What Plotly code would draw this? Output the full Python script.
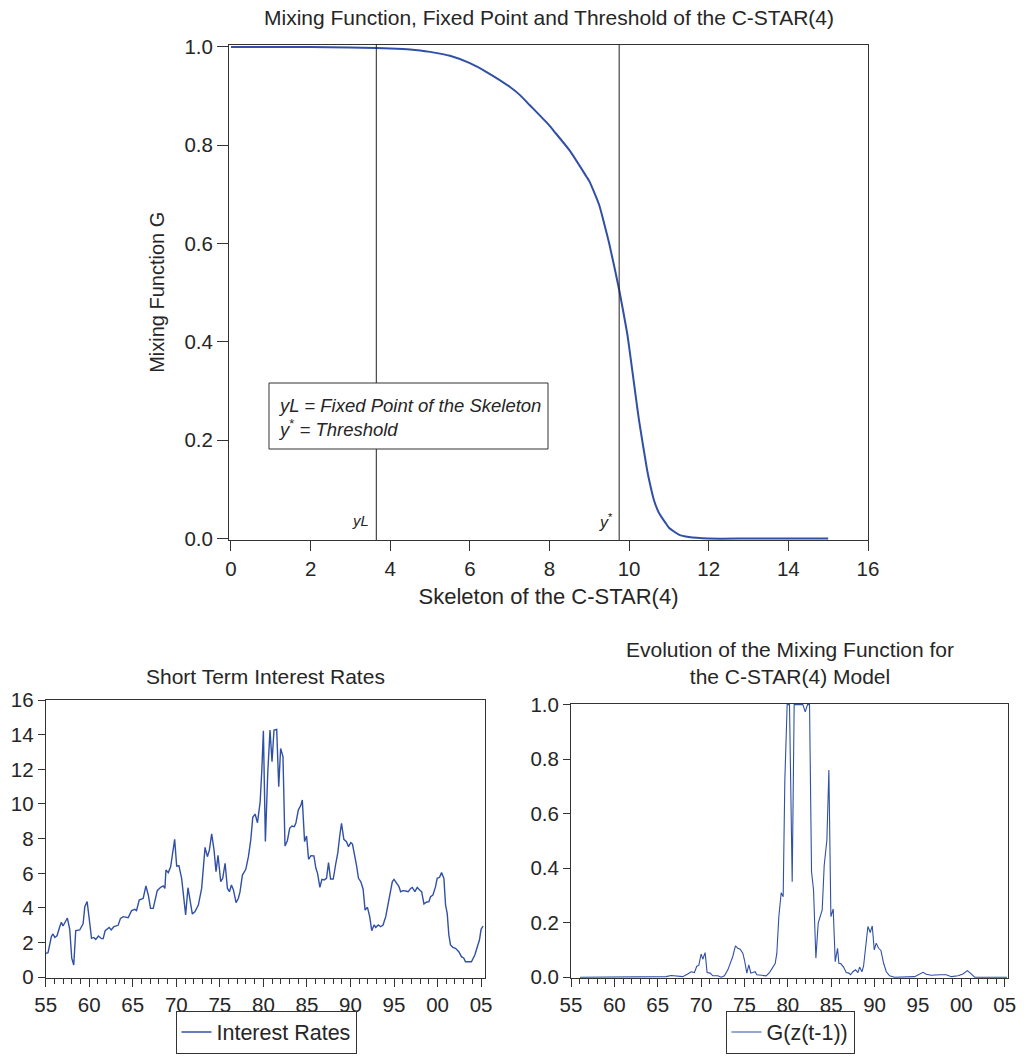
import plotly.graph_objects as go

# ---------------- data ----------------
# Top panel: mixing function G against the skeleton of the C-STAR(4)
skel_x = [0, 1, 2, 3, 3.65, 4, 4.5, 4.75, 5.0, 5.5, 6.0, 6.42, 7.0, 7.26, 7.5, 8.0, 8.1, 8.5,
          8.93, 9.0, 9.25, 9.35, 9.5, 9.75, 9.95, 10.0, 10.2, 10.25, 10.45, 10.5, 10.62, 10.75,
          10.93, 11.0, 11.25, 11.5, 12.0, 13.0, 14.0, 15.0]
mix_g = [1.0, 1.0, 1.0, 0.999, 0.998, 0.997, 0.995, 0.993, 0.990, 0.982, 0.967, 0.949, 0.919,
         0.902, 0.882, 0.840, 0.830, 0.790, 0.736, 0.727, 0.678, 0.648, 0.600, 0.506, 0.418,
         0.390, 0.269, 0.240, 0.140, 0.120, 0.079, 0.052, 0.030, 0.022, 0.008, 0.003, 0.0,
         0.0, 0.0, 0.0]
fixed_point = 3.65   # yL
threshold = 9.75     # y*

# Bottom left: short term interest rates
ir_year = [1955.00, 1955.27, 1955.65, 1955.84, 1956.04, 1956.30, 1956.61, 1956.80, 1956.99,
           1957.49, 1957.76, 1957.99, 1958.22, 1958.45, 1958.91, 1959.30, 1959.49, 1959.76,
           1960.06, 1960.26, 1960.52, 1960.75, 1961.06, 1961.41, 1961.60, 1961.83, 1962.29,
           1962.52, 1962.83, 1963.32, 1963.59, 1963.90, 1964.47, 1964.86, 1965.24, 1965.43,
           1965.74, 1966.20, 1966.51, 1966.78, 1967.04, 1967.35, 1967.81, 1968.20, 1968.50,
           1968.69, 1968.81, 1969.08, 1969.35, 1969.81, 1970.04, 1970.30, 1970.61, 1971.07,
           1971.34, 1971.57, 1971.84, 1972.15, 1972.53, 1972.91, 1973.30, 1973.57, 1973.80,
           1974.06, 1974.33, 1974.56, 1974.79, 1975.10, 1975.33, 1975.60, 1975.87, 1976.10,
           1976.33, 1976.56, 1976.86, 1977.13, 1977.32, 1977.59, 1977.98, 1978.28, 1978.55,
           1978.78, 1979.05, 1979.32, 1979.63, 1979.82, 1980.00,
           1980.23, 1980.50, 1980.76, 1980.99, 1981.22, 1981.53, 1981.76, 1981.98, 1982.25,
           1982.48, 1982.75, 1983.02, 1983.28, 1983.55, 1983.74, 1984.01, 1984.31, 1984.47,
           1984.73, 1984.96, 1985.19, 1985.46, 1985.80, 1986.03, 1986.22, 1986.49, 1986.72,
           1986.98, 1987.25, 1987.48, 1987.71, 1988.02, 1988.32, 1988.55, 1988.78, 1988.97,
           1989.24, 1989.54, 1989.77, 1990.04, 1990.23, 1990.50, 1990.69, 1990.92, 1991.18,
           1991.45, 1991.68, 1991.95, 1992.21, 1992.44, 1992.71, 1992.90, 1993.21, 1993.47,
           1993.74, 1994.05, 1994.35, 1994.62, 1994.81, 1995.00, 1995.27, 1995.57, 1995.76,
           1996.03, 1996.34, 1996.64, 1996.91, 1997.10, 1997.40, 1997.67, 1997.94, 1998.17,
           1998.44, 1998.70, 1999.01, 1999.20, 1999.47, 1999.77, 1999.96, 2000.23, 2000.46,
           2000.73, 2000.92, 2001.11, 2001.30, 2001.49, 2001.76, 2002.06, 2002.44, 2002.75,
           2003.02, 2003.21, 2003.59, 2003.89, 2004.28, 2004.54, 2004.81, 2005.00, 2005.23]
ir_value = [1.38, 1.42, 2.35, 2.50, 2.30, 2.40, 2.92, 3.17, 2.96,
            3.42, 2.77, 1.10, 0.71, 2.69, 2.73, 3.10, 4.08, 4.37,
            3.12, 2.25, 2.30, 2.19, 2.38, 2.23, 2.23, 2.69, 2.88,
            2.73, 2.92, 3.00, 3.40, 3.50, 3.44, 3.85, 3.92, 3.85,
            4.46, 4.56, 5.27, 4.75, 3.98, 3.98, 5.00, 5.19, 5.27,
            5.13, 6.19, 6.04, 6.38, 7.96, 6.42, 6.44, 5.71, 3.60,
            5.17, 4.56, 3.65, 3.79, 4.17, 5.13, 7.50, 6.96, 7.35,
            8.27, 7.35, 6.10, 7.04, 5.52, 5.71, 6.58, 5.13, 4.94,
            5.33, 5.04, 4.31, 4.56, 4.94, 5.90, 6.23, 6.96, 7.92,
            9.23, 9.42, 8.92, 10.13, 11.96, 14.23,
            7.83, 11.77, 14.27, 12.44, 14.27, 14.30, 11.00, 13.20, 12.73,
            7.58, 7.88, 8.60, 8.73, 8.69, 8.92, 9.65, 9.94, 10.23,
            7.83, 8.15, 6.81, 7.02, 7.00, 6.29, 6.00, 5.19, 5.65,
            5.62, 5.71, 6.62, 5.67, 5.67, 6.58, 7.19, 8.21, 8.88,
            7.96, 7.83, 7.54, 7.77, 7.69, 7.06, 6.48, 5.71, 5.52,
            5.10, 3.88, 4.04, 3.50, 2.69, 3.02, 2.88, 3.02, 2.92,
            3.02, 3.50, 4.27, 4.94, 5.52, 5.65, 5.42, 5.23, 4.94,
            5.00, 4.98, 4.94, 5.13, 5.19, 4.94, 5.19, 5.04, 4.94,
            4.23, 4.33, 4.37, 4.65, 4.75, 5.23, 5.71, 5.77, 6.04,
            5.71, 4.17, 3.69, 2.44, 1.87, 1.73, 1.67, 1.48, 1.19,
            1.10, 0.90, 0.90, 0.90, 1.29, 1.67, 2.15, 2.77, 2.96]

# Bottom right: evolution of the mixing function G(z(t-1))
g_year = [1956.04, 1960.58, 1965.96, 1966.54, 1967.12, 1967.88, 1968.46, 1968.85, 1969.23,
          1969.50, 1969.73, 1970.00, 1970.19, 1970.46, 1970.69, 1971.04, 1971.35, 1971.92,
          1972.31, 1972.69, 1973.08, 1973.65, 1973.96, 1974.23, 1974.50, 1974.81, 1975.00,
          1975.27, 1975.50, 1975.73, 1975.96, 1976.23, 1976.42, 1976.92, 1977.50, 1977.88,
          1978.27, 1978.54, 1978.73, 1978.96, 1979.23, 1979.46, 1979.65, 1979.92, 1980.19,
          1980.50, 1980.73, 1981.73, 1982.00, 1982.27, 1982.50, 1982.73, 1982.96, 1983.23,
          1983.50, 1983.73, 1983.96, 1984.19, 1984.50, 1984.73, 1984.96, 1985.23, 1985.46,
          1985.73, 1985.88, 1986.12, 1986.42, 1986.73, 1987.04, 1987.23, 1987.50, 1987.81,
          1988.08, 1988.27, 1988.54, 1988.73, 1988.96, 1989.23, 1989.50, 1989.73, 1989.96,
          1990.19, 1990.46, 1990.73, 1991.04, 1991.35, 1991.73, 1992.31, 1994.62, 1995.19,
          1995.58, 1995.96, 1996.54, 1997.50, 1998.27, 1998.85, 1999.62, 2000.19, 2000.69,
          2001.04, 2001.54, 2005.27]
g_value = [0.000, 0.001, 0.002, 0.006, 0.005, 0.002, 0.012, 0.020, 0.017,
           0.040, 0.043, 0.085, 0.066, 0.090, 0.017, 0.015, 0.005, 0.005,
           0.000, 0.005, 0.027, 0.076, 0.115, 0.106, 0.103, 0.088, 0.063,
           0.015, 0.045, 0.015, 0.017, 0.020, 0.009, 0.006, 0.005, 0.017,
           0.039, 0.050, 0.088, 0.222, 0.310, 0.295, 0.720, 1.000, 1.000,
           0.350, 1.000, 1.000, 0.973, 1.000, 1.000, 0.387, 0.320, 0.070,
           0.198, 0.228, 0.247, 0.410, 0.503, 0.760, 0.222, 0.250, 0.057,
           0.106, 0.051, 0.049, 0.037, 0.017, 0.015, 0.009, 0.020, 0.027,
           0.017, 0.037, 0.020, 0.041, 0.112, 0.186, 0.164, 0.188, 0.100,
           0.125, 0.106, 0.098, 0.051, 0.020, 0.005, 0.000, 0.002, 0.012,
           0.018, 0.011, 0.007, 0.009, 0.009, 0.002, 0.005, 0.012, 0.024,
           0.015, 0.000, 0.000]

year_ticks = [1955, 1960, 1965, 1970, 1975, 1980, 1985, 1990, 1995, 2000, 2005]
year_labels = ["55", "60", "65", "70", "75", "80", "85", "90", "95", "00", "05"]

# ---------------- styling ----------------
W, H = 1026, 1061
BLUE = "#3050A5"
FRAME = "#333333"
TXT = "#262626"
FONT = "Liberation Sans, Arial, sans-serif"


def px_x(p):
    return p / W


def px_y(p):
    return 1 - p / H


fig = go.Figure()

fig.add_trace(go.Scatter(x=skel_x, y=mix_g, mode="lines", xaxis="x", yaxis="y",
                         line=dict(color=BLUE, width=2, shape="spline", smoothing=0.6),
                         showlegend=False, name="G"))
fig.add_trace(go.Scatter(x=ir_year, y=ir_value, mode="lines", xaxis="x2", yaxis="y2",
                         line=dict(color=BLUE, width=1.4), name="Interest Rates",
                         legend="legend"))
fig.add_trace(go.Scatter(x=g_year, y=g_value, mode="lines", xaxis="x3", yaxis="y3",
                         line=dict(color=BLUE, width=1.1), name="G(z(t-1))",
                         legend="legend2"))

common_axis = dict(showline=True, linecolor=FRAME, linewidth=1, mirror=True,
                   showgrid=False, zeroline=False, ticks="outside", tickcolor=FRAME,
                   automargin=False,
                   tickfont=dict(family=FONT, size=20.5, color=TXT))

fig.update_layout(
    width=W, height=H,
    margin=dict(l=0, r=0, t=0, b=0, pad=0, autoexpand=False),
    paper_bgcolor="white", plot_bgcolor="white",
    font=dict(family=FONT, size=20, color=TXT),
    xaxis=dict(common_axis, domain=[px_x(229), px_x(868)], range=[-0.05, 16.0],
               tickmode="linear", tick0=0, dtick=2, ticklen=10, anchor="y",
               title=dict(text="Skeleton of the C-STAR(4)", standoff=10,
                          font=dict(family=FONT, size=22, color=TXT))),
    yaxis=dict(common_axis, domain=[px_y(540), px_y(44.5)], range=[-0.003, 1.005],
               tickmode="linear", tick0=0, dtick=0.2, tickformat=".1f", ticklen=11,
               anchor="x",
               title=dict(text="Mixing Function G", standoff=14,
                          font=dict(family=FONT, size=20, color=TXT))),
    xaxis2=dict(common_axis, domain=[px_x(45.7), px_x(485)], range=[1955, 2005.45],
                tickmode="array", tickvals=year_ticks, ticktext=year_labels, ticklen=8,
                minor=dict(tickmode="linear", tick0=1955, dtick=1, ticks="outside",
                           ticklen=5, tickcolor=FRAME),
                anchor="y2"),
    yaxis2=dict(common_axis, domain=[px_y(978), px_y(700)], range=[-0.04, 16.0],
                tickmode="linear", tick0=0, dtick=2, ticklen=7, anchor="x2"),
    xaxis3=dict(common_axis, domain=[px_x(571), px_x(1008)], range=[1955, 2005.38],
                tickmode="array", tickvals=year_ticks, ticktext=year_labels, ticklen=8,
                minor=dict(tickmode="linear", tick0=1955, dtick=1, ticks="outside",
                           ticklen=5, tickcolor=FRAME),
                anchor="y3"),
    yaxis3=dict(common_axis, domain=[px_y(978), px_y(703.5)], range=[-0.003, 1.004],
                tickmode="linear", tick0=0, dtick=0.2, tickformat=".1f", ticklen=7,
                anchor="x3"),
    legend=dict(x=px_x(266), y=px_y(1032), xanchor="center", yanchor="middle",
                bordercolor=FRAME, borderwidth=1, bgcolor="white",
                font=dict(family=FONT, size=21.5, color=TXT), itemwidth=30),
    legend2=dict(x=px_x(790), y=px_y(1032), xanchor="center", yanchor="middle",
                 bordercolor=FRAME, borderwidth=1, bgcolor="white",
                 font=dict(family=FONT, size=21.5, color=TXT), itemwidth=30),
)

# vertical reference lines (fixed point and threshold)
for xv in (fixed_point, threshold):
    fig.add_shape(type="line", xref="x", yref="y domain", x0=xv, x1=xv, y0=0, y1=1,
                  line=dict(color="#222222", width=1), layer="above")

# explanatory box
fig.add_shape(type="rect", xref="paper", yref="paper",
              x0=px_x(269), x1=px_x(548), y0=px_y(449), y1=px_y(383),
              line=dict(color=FRAME, width=1), fillcolor="white", layer="above")
fig.add_annotation(xref="paper", yref="paper", x=px_x(276), y=px_y(417),
                   xanchor="left", yanchor="middle", align="left", showarrow=False,
                   text="<i>yL = Fixed Point of the Skeleton</i><br><i>y</i><sup>*</sup><i> = Threshold</i>",
                   font=dict(family=FONT, size=18.5, color=TXT))

# labels at the vertical lines
fig.add_annotation(xref="x", yref="paper", x=fixed_point, y=px_y(520), xanchor="right",
                   yanchor="middle", xshift=-5, showarrow=False, text="<i>yL</i>",
                   font=dict(family=FONT, size=15, color=TXT))
fig.add_annotation(xref="x", yref="paper", x=threshold, y=px_y(521), xanchor="right",
                   yanchor="middle", xshift=-4, showarrow=False,
                   text="<i>y</i><sup>*</sup>",
                   font=dict(family=FONT, size=16, color=TXT))

# titles
fig.add_annotation(xref="paper", yref="paper", x=px_x(548.5), y=px_y(17),
                   xanchor="center", yanchor="middle", showarrow=False,
                   text="Mixing Function, Fixed Point and Threshold of the C-STAR(4)",
                   font=dict(family=FONT, size=21, color=TXT))
fig.add_annotation(xref="paper", yref="paper", x=px_x(265), y=px_y(676),
                   xanchor="center", yanchor="middle", showarrow=False,
                   text="Short Term Interest Rates",
                   font=dict(family=FONT, size=21, color=TXT))
fig.add_annotation(xref="paper", yref="paper", x=px_x(789.5), y=px_y(663),
                   xanchor="center", yanchor="middle", showarrow=False,
                   text="Evolution of the Mixing Function for<br>the C-STAR(4) Model",
                   font=dict(family=FONT, size=21, color=TXT))

fig.write_html("out.html")
